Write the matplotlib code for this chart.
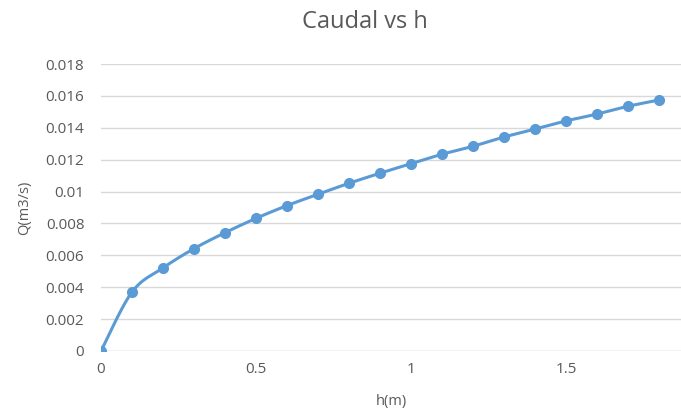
import matplotlib
matplotlib.use("Agg")
import matplotlib.pyplot as plt
import numpy as np

h_m = [0.0, 0.1, 0.2, 0.3, 0.4, 0.5, 0.6, 0.7, 0.8, 0.9,
       1.0, 1.1, 1.2, 1.3, 1.4, 1.5, 1.6, 1.7, 1.8]
q_m3s = [0.0, 0.00370, 0.00521, 0.00642, 0.00742, 0.00832, 0.00912, 0.00983, 0.01052, 0.01115,
         0.01175, 0.01234, 0.01284, 0.01342, 0.01392, 0.01443, 0.01486, 0.01535, 0.01574]
y_ticks = [0, 0.002, 0.004, 0.006, 0.008, 0.01, 0.012, 0.014, 0.016, 0.018]
y_labels = ["0", "0.002", "0.004", "0.006", "0.008", "0.01", "0.012", "0.014", "0.016", "0.018"]
x_ticks = [0, 0.5, 1, 1.5]
x_labels = ["0", "0.5", "1", "1.5"]

BLUE = "#5B9BD5"
GREY = "#595959"

plt.rcParams["font.family"] = ["Open Sans", "DejaVu Sans"]


def smooth_path(x, y, n=20):
    # Catmull-Rom style path, like Excel's smoothed line
    x = np.asarray(x, float)
    y = np.asarray(y, float)
    px = np.concatenate([[x[0]], x, [x[-1]]])
    py = np.concatenate([[y[0]], y, [y[-1]]])
    xs, ys = [], []
    t = np.linspace(0, 1, n, endpoint=False)
    for i in range(1, len(px) - 2):
        p0, p1, p2, p3 = (np.array([px[j], py[j]]) for j in (i - 1, i, i + 1, i + 2))
        c1 = p1 + (p2 - p0) / 6
        c2 = p2 - (p3 - p1) / 6
        pts = ((1 - t) ** 3)[:, None] * p1 + (3 * (1 - t) ** 2 * t)[:, None] * c1 \
            + (3 * (1 - t) * t ** 2)[:, None] * c2 + (t ** 3)[:, None] * p2
        xs.extend(pts[:, 0])
        ys.extend(pts[:, 1])
    xs.append(x[-1])
    ys.append(y[-1])
    return np.array(xs), np.array(ys)


fig = plt.figure(figsize=(6.81, 4.18), dpi=100)
ax = fig.add_axes([101 / 681, 67 / 418, 580 / 681, 287 / 418])

for yt in y_ticks[1:]:
    ax.axhline(yt, color="#D9D9D9", lw=1, zorder=0)
ax.axhline(0, color="#BFBFBF", lw=1, zorder=0)

sx, sy = smooth_path(h_m, q_m3s)
ax.plot(sx, sy, color=BLUE, lw=2.2, zorder=2)
ax.plot(h_m, q_m3s, "o", color=BLUE, ms=7, zorder=3)

ax.set_xlim(0, 580 / 310)
ax.set_ylim(0, 0.018)
ax.set_xticks(x_ticks)
ax.set_xticklabels(x_labels)
ax.set_yticks(y_ticks)
ax.set_yticklabels(y_labels)
ax.tick_params(axis="y", length=0, colors=GREY, labelsize=11, pad=12)
ax.tick_params(axis="x", length=0, colors=GREY, labelsize=11, pad=8)
for s in ax.spines.values():
    s.set_visible(False)

ax.set_xlabel("h(m)", color=GREY, fontsize=10.5, labelpad=12)
ax.set_ylabel("Q(m3/s)", color=GREY, fontsize=10.5, labelpad=10)
fig.text(365 / 681, 1 - 22 / 418, "Caudal vs h", ha="center", va="center",
         color=GREY, fontsize=17)

fig.savefig("out.png", dpi=100)
